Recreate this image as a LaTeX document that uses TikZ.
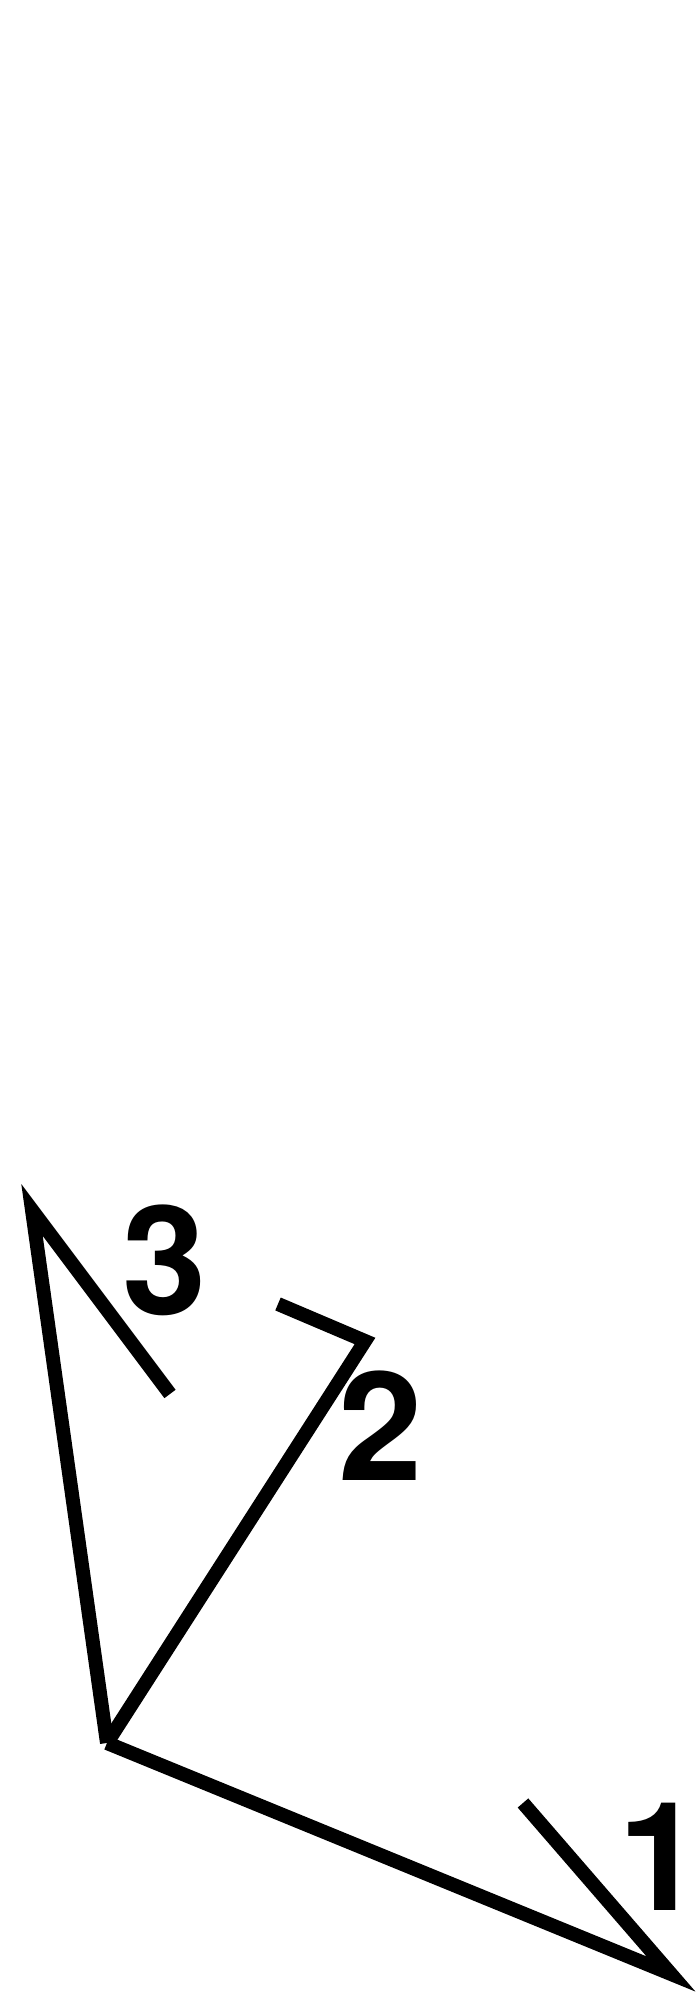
\documentclass[tikz,border=0pt]{standalone}
\usepackage{fontspec}
\setmainfont{TeX Gyre Heros}
\usepackage{tikz}

\tikzset{axis_label/.style={draw=none,inner sep=0pt,font=\fontsize{152}{152}\selectfont\bfseries}}

\begin{document}
\begin{tikzpicture}[line join=miter,line width=14bp,]
%%
\useasboundingbox (0bp,0bp) rectangle (700bp,2000bp);
\coordinate (origin) at (107bp,257bp);
  \coordinate (tip_1) at (671bp,26bp);
  \coordinate (barb_1) at (523bp,197bp);
  \coordinate (tip_2) at (365bp,659bp);
  \coordinate (barb_2) at (278bp,696bp);
  \coordinate (tip_3) at (32bp,790bp);
  \coordinate (barb_3) at (170bp,606bp);
  \node (label_1) at (661bp,143bp) [axis_label] {1};
  \node (label_2) at (381bp,574bp) [axis_label] {2};
  \node (label_3) at (165bp,740bp) [axis_label] {3};
  \draw [black] (origin) -- (tip_1) -- (barb_1);
  \draw [black] (origin) -- (tip_2) -- (barb_2);
  \draw [black] (origin) -- (tip_3) -- (barb_3);
%
\end{tikzpicture}
\end{document}
